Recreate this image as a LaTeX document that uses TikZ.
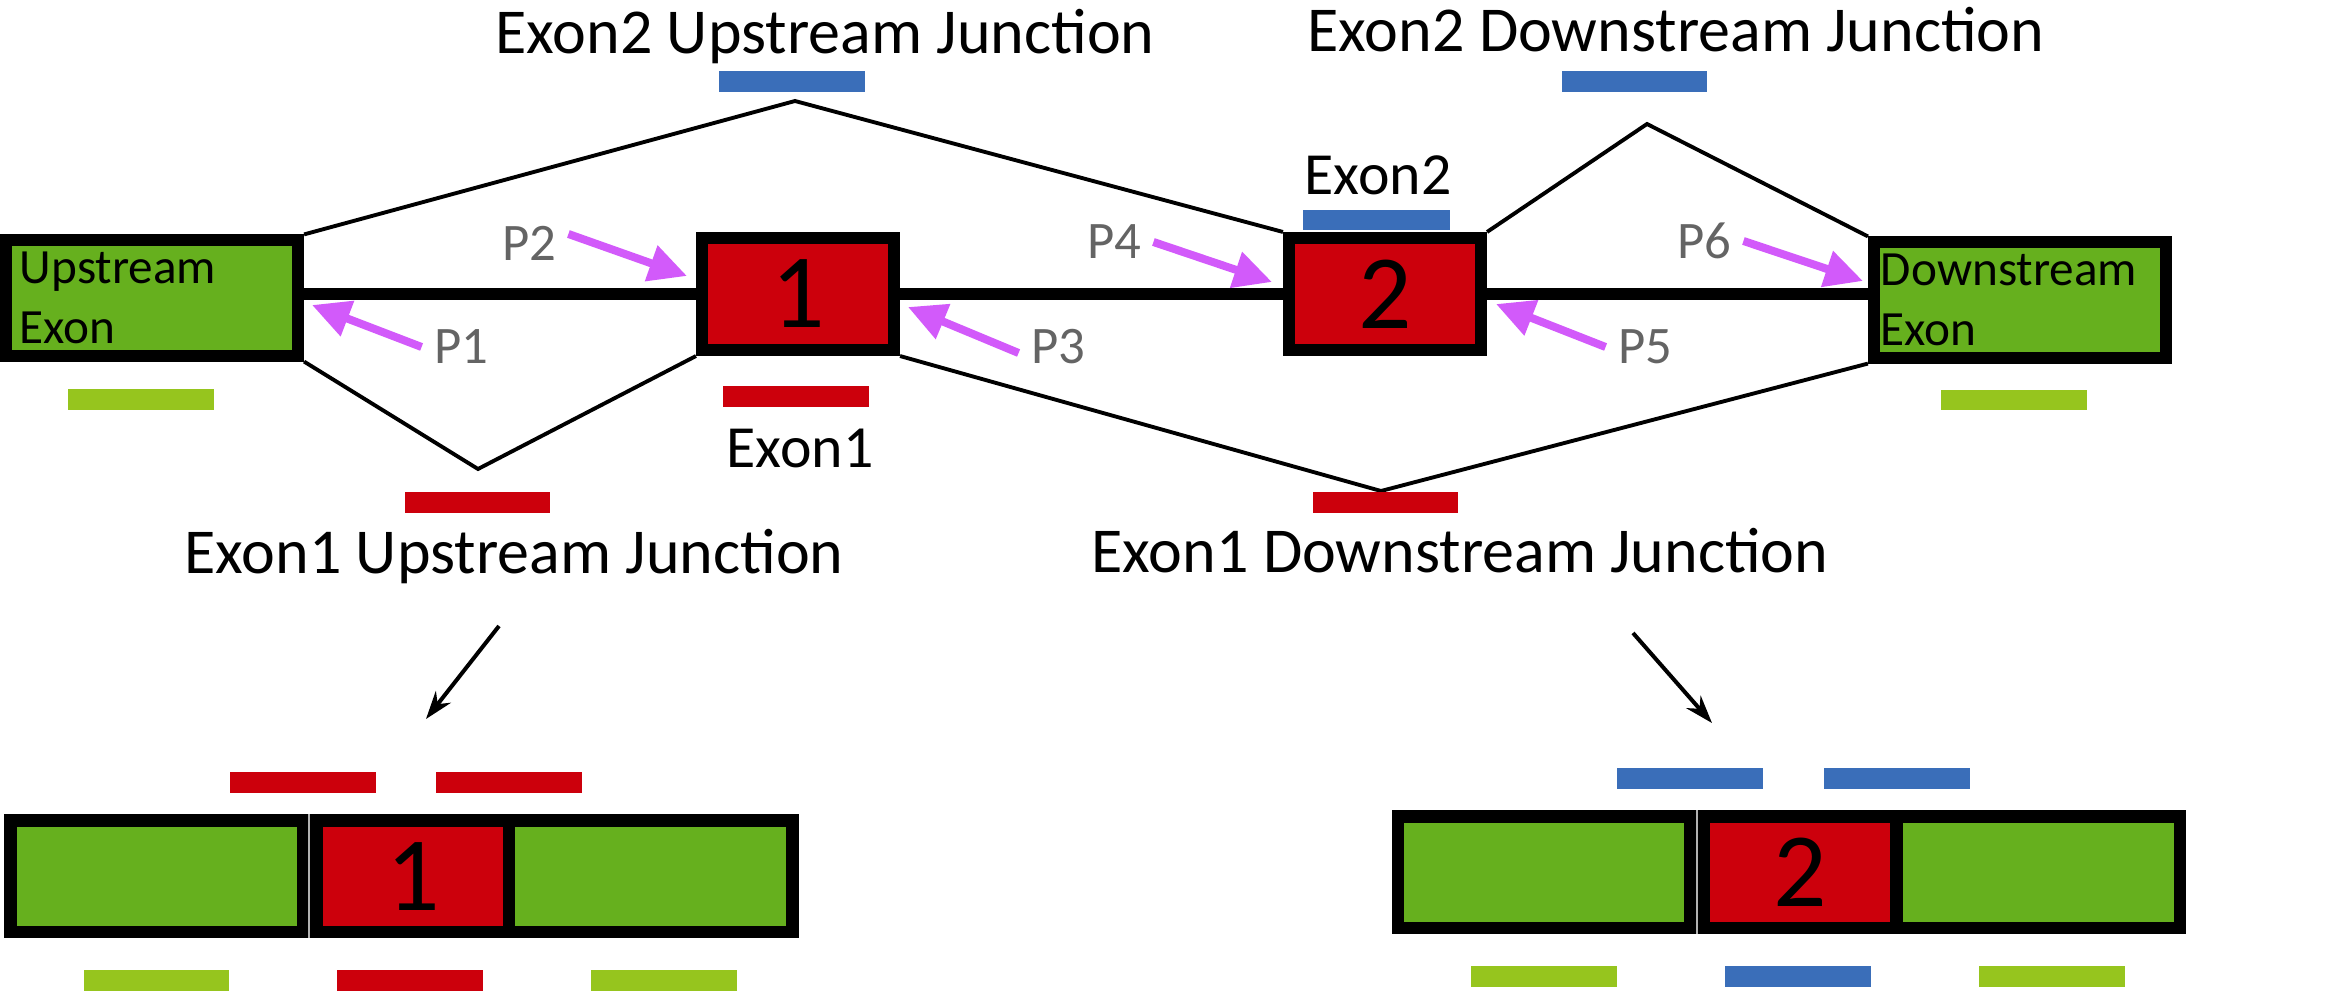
\documentclass[tikz,border=0pt]{standalone}
\usepackage{fontspec}
\setmainfont{Carlito}
\usetikzlibrary{arrows.meta}
\definecolor{exongreen}{RGB}{102,176,30}
\definecolor{bargreen}{RGB}{150,197,30}
\definecolor{exonred}{RGB}{204,0,12}
\definecolor{barblue}{RGB}{58,110,185}
\definecolor{arrowpink}{RGB}{210,90,250}
\definecolor{pgray}{RGB}{100,100,100}
\newcommand\digitfont{\fontsize{30pt}{30pt}\selectfont}
\begin{document}
\begin{tikzpicture}[x=0.01cm,y=-0.01cm,
    flank/.style={draw,line width=0.12cm,fill=exongreen,minimum width=2.92cm,minimum height=1.12cm,align=left,font=\fontsize{14pt}{17pt}\selectfont},
    exon/.style={draw,line width=0.12cm,fill=exonred,minimum width=1.92cm,minimum height=1.12cm,font=\digitfont},
    cell/.style={minimum height=0.99cm,inner sep=0,font=\digitfont},
    plabel/.style={text=pgray,font=\fontsize{15pt}{15pt}\selectfont},
    heading/.style={anchor=base,font=\fontsize{18.2pt}{21pt}\selectfont},
    pointer/.style={arrowpink,line width=0.08cm,-{Triangle[length=0.38cm,width=0.36cm]}},
    junction/.style={line width=1.1pt}]
        \useasboundingbox (0,0) rectangle (2326,991);
        \node [flank,inner xsep=0.14cm,text width=2.64cm] (up) at (152,298) {Upstream\\Exon};
        \node [exon] (ex1) at (798,294) {1};
        \node [exon] (ex2) at (1385,294) {2};
        \node [flank,inner xsep=0.07cm,text width=2.78cm] (down) at (2020,300) {Downstream\\Exon};
        \draw [line width=0.11cm] (up.east |- ex1.west) -- (ex1.west);
        \draw [line width=0.11cm] (ex1.east) -- (ex2.west);
        \draw [line width=0.11cm] (ex2.east) -- (down.west |- ex2.east);
        \coordinate (e2u) at (795,101);
        \coordinate (e2d) at (1647,124);
        \coordinate (e1u) at (478,469);
        \coordinate (e1d) at (1381,491);
        \draw [junction] (up.north east) -- (e2u) -- (ex2.north west);
        \draw [junction] (ex2.north east) -- (e2d) -- (down.north west);
        \draw [junction] (up.south east) -- (e1u) -- (ex1.south west);
        \draw [junction] (ex1.south east) -- (e1d) -- (down.south west);
        \fill [barblue] (719,71) rectangle (865,92);
        \fill [barblue] (1562,71) rectangle (1707,92);
        \fill [barblue] (1303,210) rectangle (1450,230);
        \fill [bargreen] (68,389) rectangle (214,410);
        \fill [exonred] (723,386) rectangle (869,407);
        \fill [exonred] (405,492) rectangle (550,513);
        \fill [exonred] (1313,492) rectangle (1458,513);
        \fill [bargreen] (1941,390) rectangle (2087,410);
        \node [heading] (t2u) at (825,54) {Exon2 Upstream Junction};
        \node [heading] (t2d) at (1676,52) {Exon2 Downstream Junction};
        \node [heading] (t1u) at (514,573) {Exon1 Upstream Junction};
        \node [heading] (t1d) at (1460,572) {Exon1 Downstream Junction};
        \node [heading,font=\fontsize{17pt}{20pt}\selectfont] (lab1) at (800,468) {Exon1};
        \node [heading,font=\fontsize{17pt}{20pt}\selectfont] (lab2) at (1378,195) {Exon2};
        \node [plabel] (p1) at (461,347) {P1};
        \node [plabel] (p2) at (529,243) {P2};
        \node [plabel] (p3) at (1058,347) {P3};
        \node [plabel] (p4) at (1114,242) {P4};
        \node [plabel] (p5) at (1645,347) {P5};
        \node [plabel] (p6) at (1704,241) {P6};
        \coordinate (a1) at (312,305);
        \coordinate (a2) at (687,276);
        \coordinate (a3) at (908,307);
        \coordinate (a4) at (1272,282);
        \coordinate (a5) at (1496,304);
        \coordinate (a6) at (1863,281);
        \draw [pointer] (p1.west) -- (a1);
        \draw [pointer] ([yshift=0.09cm]p2.east) -- (a2);
        \draw [pointer] ([yshift=-0.06cm]p3.west) -- (a3);
        \draw [pointer] (p4.east) -- (a4);
        \draw [pointer] (p5.west) -- (a5);
        \draw [pointer] (p6.east) -- (a6);
        \coordinate (s1) at (499,626);
        \coordinate (s2) at (426,719);
        \coordinate (s3) at (1633,633);
        \coordinate (s4) at (1712,723);
        \draw [line width=0.04cm,-{Stealth[length=0.28cm,width=0.19cm]}] (s1) -- (s2);
        \draw [line width=0.04cm,-{Stealth[length=0.28cm,width=0.19cm]}] (s3) -- (s4);
        \node [fill=black,minimum width=7.95cm,minimum height=1.24cm,inner sep=0] (jx1) at (401.5,876) {};
        \node [cell,fill=exongreen,minimum width=2.80cm] (jx1a) at (157,876.5) {};
        \node [cell,fill=exonred,minimum width=1.80cm] (jx1b) at (413,876.5) {1};
        \node [cell,fill=exongreen,minimum width=2.71cm] (jx1c) at (650.5,876.5) {};
        \draw [white!70!black,line width=0.3pt] (309,814) -- (309,938);
        \fill [exonred] (230,772) rectangle (376,793);
        \fill [exonred] (436,772) rectangle (582,793);
        \fill [bargreen] (84,970) rectangle (229,991);
        \fill [exonred] (337,970) rectangle (483,991);
        \fill [bargreen] (591,970) rectangle (737,991);
        \node [fill=black,minimum width=7.94cm,minimum height=1.24cm,inner sep=0] (jx2) at (1789,872) {};
        \node [cell,fill=exongreen,minimum width=2.80cm] (jx2a) at (1544,872.5) {};
        \node [cell,fill=exonred,minimum width=1.80cm] (jx2b) at (1800,872.5) {2};
        \node [cell,fill=exongreen,minimum width=2.71cm] (jx2c) at (2038.5,872.5) {};
        \draw [white!70!black,line width=0.3pt] (1697,810) -- (1697,934);
        \fill [barblue] (1617,768) rectangle (1763,789);
        \fill [barblue] (1824,768) rectangle (1970,789);
        \fill [bargreen] (1471,966) rectangle (1617,987);
        \fill [barblue] (1725,966) rectangle (1871,987);
        \fill [bargreen] (1979,966) rectangle (2125,987);
\end{tikzpicture}
\end{document}
